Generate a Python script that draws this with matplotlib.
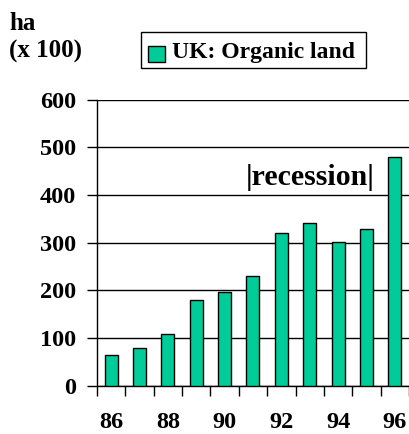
import numpy as np
import matplotlib.pyplot as plt

# UK organic land, hectares x 100
years = [86, 87, 88, 89, 90, 91, 92, 93, 94, 95, 96]
area = [65, 80, 109, 181, 196, 231, 321, 341, 301, 329, 480]
yticks = [0, 100, 200, 300, 400, 500, 600]

plt.rcParams['font.family'] = ['Liberation Serif', 'DejaVu Serif']
plt.rcParams['font.weight'] = 'bold'

fig = plt.figure(figsize=(4.09, 4.34), dpi=100)
ax = fig.add_axes([0.237, 0.111, 0.763, 0.659])

x = np.arange(len(years))
ax.bar(x, area, width=0.46, color='#00CC99', edgecolor='black', linewidth=1, zorder=3)

ax.set_xlim(-0.5, len(years) - 0.5)
ax.set_ylim(0, 600)
ax.set_yticks(yticks)
ax.set_yticklabels([str(v) for v in yticks], fontsize=17.5, fontweight='bold')
ax.yaxis.grid(True, color='black', linewidth=1, zorder=0)
ax.tick_params(axis='y', length=7, width=1, pad=8)

# labels at bar centres (every other year), tick marks between bars
ax.set_xticks(x[::2])
ax.set_xticklabels([str(y) for y in years[::2]], fontsize=17.5, fontweight='bold')
ax.set_xticks(np.arange(len(years) + 1) - 0.5, minor=True)
ax.tick_params(axis='x', which='major', length=0, pad=19)
ax.tick_params(axis='x', which='minor', length=7, width=1)

for side in ['top', 'right']:
    ax.spines[side].set_visible(False)
ax.spines['left'].set_linewidth(1)
ax.spines['bottom'].set_linewidth(1)

ax.text(7.0, 438, '|recession|', ha='center', va='center', fontsize=21.5, fontweight='bold')

fig.text(0.024, 0.946, 'ha', fontsize=18, fontweight='bold', va='center')
fig.text(0.022, 0.882, '(x 100)', fontsize=18, fontweight='bold', va='center')

# legend box drawn in figure coordinates
fig.patches.append(plt.Rectangle((0.345, 0.843), 0.55, 0.083, transform=fig.transFigure,
                                 facecolor='white', edgecolor='black', linewidth=1))
fig.patches.append(plt.Rectangle((0.362, 0.857), 0.042, 0.037, transform=fig.transFigure,
                                 facecolor='#00CC99', edgecolor='black', linewidth=1))
fig.text(0.42, 0.880, 'UK: Organic land', fontsize=17, fontweight='bold', va='center')

fig.savefig('out.png', dpi=100)
